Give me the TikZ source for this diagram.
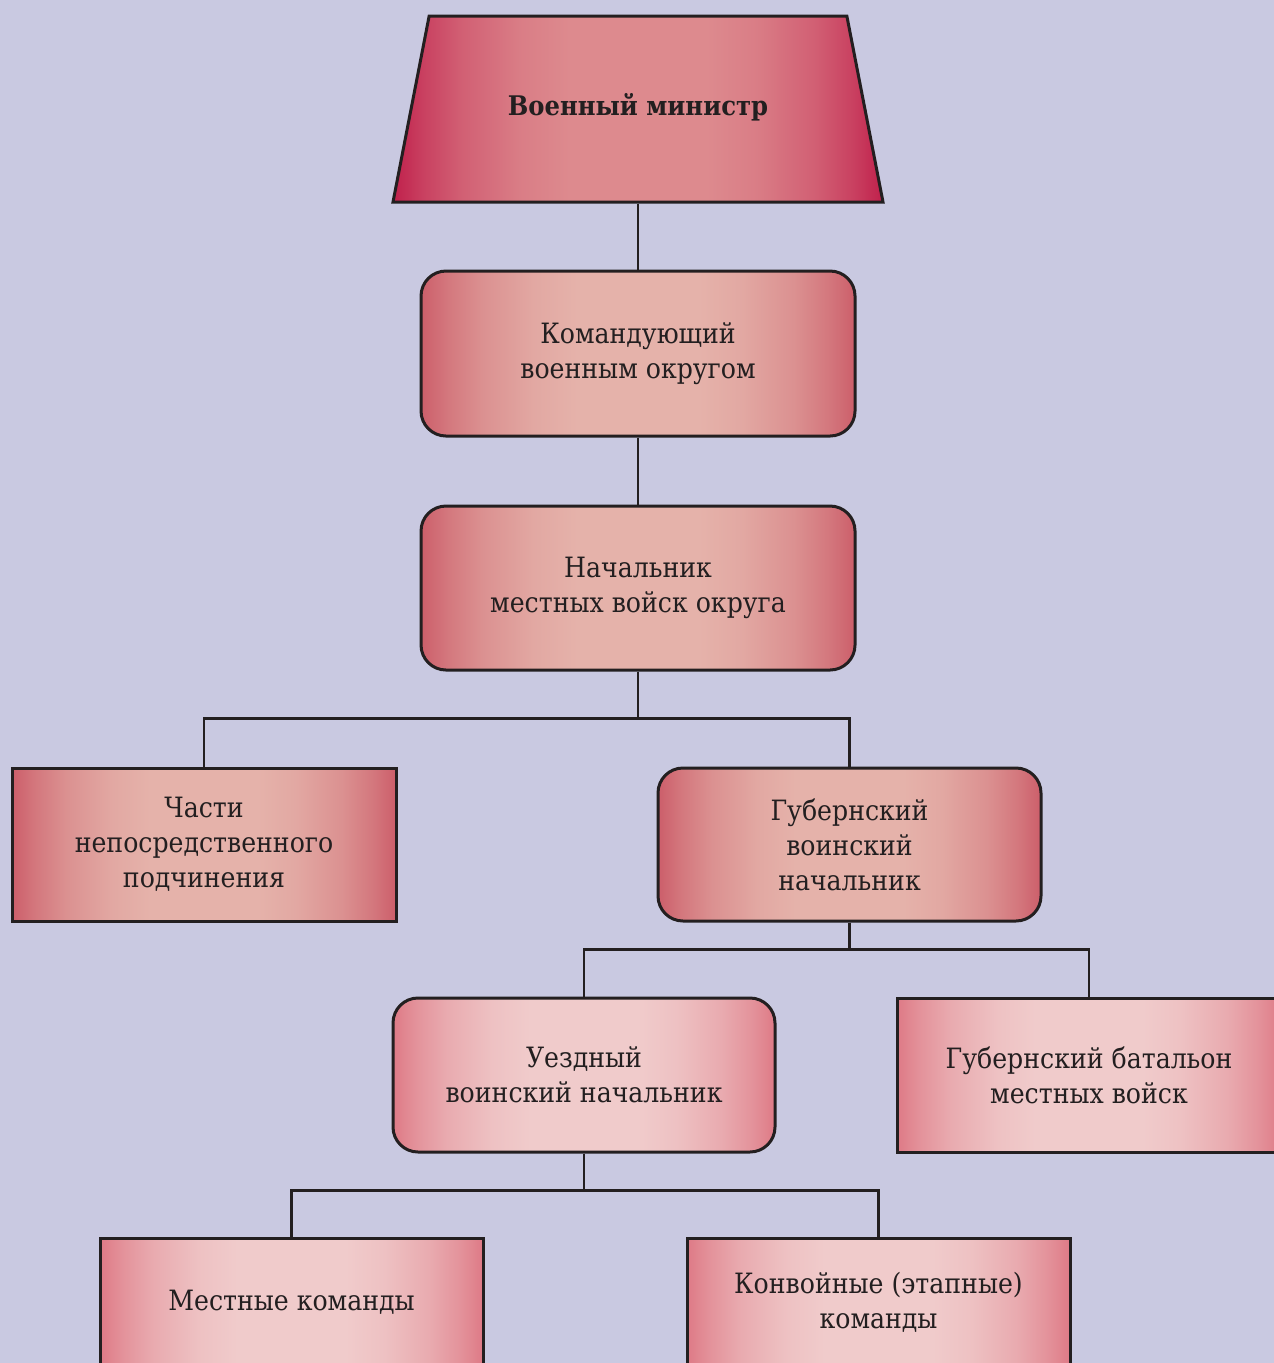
\documentclass[tikz,border=0pt]{standalone}
\usepackage{fontspec}
\setmainfont{DejaVu Serif Condensed}
\usetikzlibrary{positioning,shapes.geometric}

\definecolor{bgcol}{RGB}{201,201,225}
\definecolor{inkcol}{RGB}{35,31,32}
\definecolor{topedge}{RGB}{192,32,76}
\definecolor{topmid}{RGB}{221,138,142}
\definecolor{midedge}{RGB}{204,94,106}
\definecolor{midmid}{RGB}{229,178,170}
\definecolor{lowedge}{RGB}{222,122,134}
\definecolor{lowmid}{RGB}{240,203,203}

% edge-dark, wide light centre
\colorlet{topa}{topedge!70!topmid}
\colorlet{topb}{topedge!40!topmid}
\colorlet{topc}{topedge!12!topmid}
\colorlet{mida}{midedge!70!midmid}
\colorlet{midb}{midedge!40!midmid}
\colorlet{midc}{midedge!12!midmid}
\colorlet{lowa}{lowedge!70!lowmid}
\colorlet{lowb}{lowedge!40!lowmid}
\colorlet{lowc}{lowedge!12!lowmid}

\pgfdeclarehorizontalshading{topshade}{100bp}{color(0bp)=(topedge); color(25bp)=(topedge);
  color(28bp)=(topa); color(32bp)=(topb); color(38bp)=(topc); color(43bp)=(topmid);
  color(57bp)=(topmid); color(62bp)=(topc); color(68bp)=(topb); color(72bp)=(topa);
  color(75bp)=(topedge); color(100bp)=(topedge)}
\pgfdeclarehorizontalshading{midshade}{100bp}{color(0bp)=(midedge); color(25bp)=(midedge);
  color(28bp)=(mida); color(32bp)=(midb); color(38bp)=(midc); color(43bp)=(midmid);
  color(57bp)=(midmid); color(62bp)=(midc); color(68bp)=(midb); color(72bp)=(mida);
  color(75bp)=(midedge); color(100bp)=(midedge)}
\pgfdeclarehorizontalshading{lowshade}{100bp}{color(0bp)=(lowedge); color(25bp)=(lowedge);
  color(28bp)=(lowa); color(32bp)=(lowb); color(38bp)=(lowc); color(43bp)=(lowmid);
  color(57bp)=(lowmid); color(62bp)=(lowc); color(68bp)=(lowb); color(72bp)=(lowa);
  color(75bp)=(lowedge); color(100bp)=(lowedge)}

\tikzset{
  unit/.style={draw=inkcol,line width=3pt,text=inkcol,align=center,
    font=\fontsize{28}{35}\selectfont,inner sep=0pt},
  chief/.style={unit,trapezium,trapezium stretches body=true,
    trapezium left angle=79,trapezium right angle=79,
    text height=19pt,text depth=6pt,inner ysep=80.5pt,
    minimum width=490pt,shading=topshade,
    font=\fontsize{27}{35}\selectfont\bfseries},
  midbox/.style={unit,shading=midshade},
  lowbox/.style={unit,shading=lowshade},
  office/.style={rounded corners=25pt},
  link/.style={draw=inkcol,line width=2.5pt}
}

\begin{document}
\begin{tikzpicture}[x=1pt,y=-1pt]
  \fill[bgcol] (0,0) rectangle (1274,1363);
  \useasboundingbox (0,0) rectangle (1274,1363);
  \clip (0,0) rectangle (1274,1363);

  \node (minister) [chief] at (638,109) {Военный министр};
  \node (komand) [midbox,office,minimum width=434pt,minimum height=165pt,
    below=66pt of minister] {Командующий\\военным округом};
  \node (nach) [midbox,office,minimum width=434pt,minimum height=164pt,
    below=67pt of komand] {Начальник\\местных войск округа};

  \node (chast) [midbox,minimum width=384pt,minimum height=153pt]
    at (204,844.5) {Части\\непосредственного\\подчинения};
  \node (gub) [midbox,office,minimum width=383pt,minimum height=153pt]
    at (849.5,844.5) {Губернский\\воинский\\начальник};

  \node (uezd) [lowbox,office,minimum width=382pt,minimum height=154pt]
    at (584,1075) {Уездный\\воинский начальник};
  \node (batal) [lowbox,minimum width=384pt,minimum height=154pt,
    right=119pt of uezd] {Губернский батальон\\местных войск};

  \node (mest) [lowbox,minimum width=383pt,minimum height=128pt]
    at (291.5,1302) {Местные команды};
  \node (konv) [lowbox,minimum width=383pt,minimum height=128pt,
    right=201pt of mest] {Конвойные (этапные)\\команды};

  % straight links
  \draw[link] (minister.south) -- (komand.north);
  \draw[link] (komand.south) -- (nach.north);

  % elbow links: parent/child/drop
  \foreach \from/\to/\drop in
    {nach/chast/47, nach/gub/47, gub/uezd/27, gub/batal/27,
     uezd/mest/37, uezd/konv/37}
    \draw[link] (\from.south) -- ++(0,\drop) -| (\to.north);
\end{tikzpicture}
\end{document}
